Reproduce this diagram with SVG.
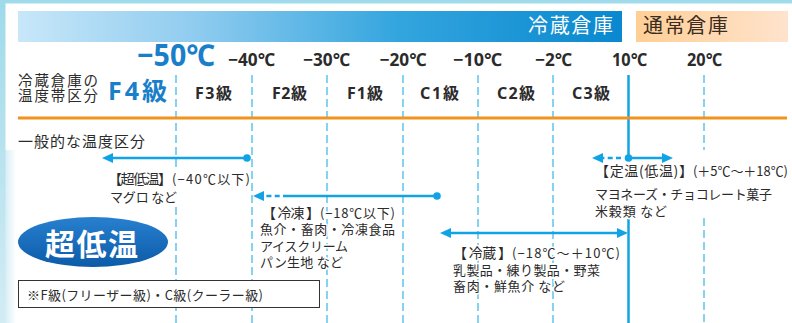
<svg xmlns="http://www.w3.org/2000/svg" width="792" height="323" viewBox="0 0 792 323">
<defs>
<linearGradient id="gBlue" x1="0" y1="0" x2="1" y2="0">
<stop offset="0" stop-color="#c8e7f9"/>
<stop offset="0.3" stop-color="#8ecbef"/>
<stop offset="0.63" stop-color="#33a5de"/>
<stop offset="1" stop-color="#0988cf"/>
</linearGradient>
<linearGradient id="gOrange" x1="0" y1="0" x2="1" y2="0">
<stop offset="0" stop-color="#ffcf96"/>
<stop offset="1" stop-color="#ffe3cd"/>
</linearGradient>
<linearGradient id="gLeft" x1="0" y1="0" x2="0" y2="1">
<stop offset="0" stop-color="#9fdaea"/>
<stop offset="1" stop-color="#d3ecf4"/>
</linearGradient>
<linearGradient id="gGlow" x1="0" y1="0" x2="1" y2="0">
<stop offset="0" stop-color="#d6edf5"/>
<stop offset="1" stop-color="#ffffff"/>
</linearGradient>
<linearGradient id="gEll" x1="0" y1="0" x2="0" y2="1">
<stop offset="0" stop-color="#2780cf"/>
<stop offset="1" stop-color="#0c5ba9"/>
</linearGradient>
<marker id="ah" markerUnits="userSpaceOnUse" markerWidth="12" markerHeight="12" viewBox="0 -6 12 12" refX="4" refY="0" orient="auto-start-reverse">
<path d="M0,-5 L11,0 L0,5 z" fill="#12a3e6"/>
</marker>
<style>
text{font-family:"Noto Sans CJK JP","Noto Sans",sans-serif;fill:#2b2b2b}
.hd{font-size:20px}
.tmp{font-family:"Noto Sans","Noto Sans CJK JP",sans-serif;font-size:18px;font-weight:bold}
.big{font-family:"Noto Sans","Noto Sans CJK JP",sans-serif;font-size:30px;font-weight:bold;fill:#1a7fc8}
.gr{font-family:"Noto Sans","Noto Sans CJK JP",sans-serif;font-size:16px;font-weight:bold}
.lbl{font-size:15px}
.lbl2{font-size:14.5px}
.ann{font-size:13px;paint-order:stroke;stroke:#fff;stroke-width:3px;stroke-linejoin:round}
.annb{font-size:14px}
.dash{stroke:#5cc5ee;stroke-width:1.5;stroke-dasharray:8 4;fill:none}
.arr{stroke:#12a3e6;stroke-width:2.5;fill:none}
.dot{stroke:#12a3e6;stroke-width:2.5;stroke-dasharray:5 3.3;fill:none}
.pt{fill:#12a3e6}
</style>
</defs>
<rect x="0" y="0" width="792" height="323" fill="#ffffff"/>
<rect x="5" y="150" width="11" height="173" fill="url(#gGlow)"/>
<rect x="0" y="0" width="5.5" height="323" fill="url(#gLeft)"/>
<rect x="0" y="0" width="792" height="3.5" fill="#a0dbeb"/>

<g id="header-cold">
<rect x="18" y="11" width="604" height="31" fill="url(#gBlue)"/>
<text class="hd" x="528" y="33" textLength="85" style="fill:#ffffff">冷蔵倉庫</text>
</g>
<g id="header-normal">
<rect x="636" y="11" width="152" height="31" fill="url(#gOrange)"/>
<text class="hd" x="643" y="33" textLength="85" style="fill:#3a2c20">通常倉庫</text>
</g>

<g id="gridlines">
<line class="dash" x1="176" y1="75" x2="176" y2="323"/>
<line class="dash" x1="252" y1="75" x2="252" y2="323"/>
<line class="dash" x1="327" y1="75" x2="327" y2="323"/>
<line class="dash" x1="403" y1="75" x2="403" y2="323"/>
<line class="dash" x1="478" y1="75" x2="478" y2="323"/>
<line class="dash" x1="553" y1="75" x2="553" y2="323"/>
<line class="dash" x1="704" y1="75" x2="704" y2="150"/>
<line class="dash" x1="704" y1="218" x2="704" y2="323"/>
<line x1="628.5" y1="75" x2="628.5" y2="158" stroke="#12a3e6" stroke-width="2.5"/>
<line x1="628.5" y1="219" x2="628.5" y2="323" stroke="#12a3e6" stroke-width="2.5"/>
</g>

<g id="temps">
<text class="big" x="176" y="66" text-anchor="middle" textLength="78" lengthAdjust="spacingAndGlyphs">−50℃</text>
<text class="tmp" x="251.5" y="66" text-anchor="middle" textLength="47" lengthAdjust="spacingAndGlyphs">−40℃</text>
<text class="tmp" x="326.5" y="66" text-anchor="middle" textLength="47" lengthAdjust="spacingAndGlyphs">−30℃</text>
<text class="tmp" x="403" y="66" text-anchor="middle" textLength="47" lengthAdjust="spacingAndGlyphs">−20℃</text>
<text class="tmp" x="477.5" y="66" text-anchor="middle" textLength="49" lengthAdjust="spacingAndGlyphs">−10℃</text>
<text class="tmp" x="553.5" y="66" text-anchor="middle" textLength="37" lengthAdjust="spacingAndGlyphs">−2℃</text>
<text class="tmp" x="629.5" y="66" text-anchor="middle" textLength="35" lengthAdjust="spacingAndGlyphs">10℃</text>
<text class="tmp" x="704.5" y="66" text-anchor="middle" textLength="35" lengthAdjust="spacingAndGlyphs">20℃</text>
</g>

<g id="grades">
<text class="lbl2" x="18" y="86" textLength="80">冷蔵倉庫の</text>
<text class="lbl2" x="18" y="101" textLength="80">温度帯区分</text>
<text x="108" y="100" textLength="59" style="font-family:'Noto Sans','Noto Sans CJK JP',sans-serif;font-size:25px;font-weight:bold;fill:#1a7fc8">F4級</text>
<text class="gr" x="213.5" y="99" text-anchor="middle" textLength="37">F3級</text>
<text class="gr" x="289.5" y="99" text-anchor="middle" textLength="35">F2級</text>
<text class="gr" x="365" y="99" text-anchor="middle" textLength="36">F1級</text>
<text class="gr" x="439.5" y="99" text-anchor="middle" textLength="39">C1級</text>
<text class="gr" x="516" y="99" text-anchor="middle" textLength="38">C2級</text>
<text class="gr" x="591" y="99" text-anchor="middle" textLength="38">C3級</text>
</g>

<line id="divider" x1="18" y1="118" x2="787" y2="118" stroke="#f2931f" stroke-width="3"/>

<text class="lbl" x="18" y="147" textLength="127">一般的な温度区分</text>

<g id="connectors">
<line class="arr" x1="247" y1="158" x2="109" y2="158" marker-end="url(#ah)"/>
<circle class="pt" cx="247" cy="158" r="3.8"/>

<line class="arr" x1="437" y1="196" x2="288" y2="196"/>
<line class="dot" x1="288" y1="196" x2="260" y2="196" marker-end="url(#ah)"/>
<circle class="pt" cx="437" cy="196" r="3.8"/>

<line class="arr" x1="447" y1="233" x2="621" y2="233" marker-start="url(#ah)" marker-end="url(#ah)"/>

<line class="arr" x1="628" y1="158" x2="666" y2="158" marker-end="url(#ah)"/>
<line class="dot" x1="621" y1="158" x2="599" y2="158" marker-end="url(#ah)"/>
<circle class="pt" cx="628.5" cy="158" r="3.8"/>
</g>

<g id="ultra-low">
<rect x="106" y="168" width="144" height="38" fill="#ffffff"/>
<text class="annb" x="108" y="184" textLength="64">【超低温】</text>
<text class="ann" x="172" y="184" textLength="78">(−40℃以下)</text>
<text class="ann" x="110" y="202" textLength="67">マグロ など</text>
</g>

<g id="frozen">
<text class="ann" x="262" y="218" textLength="58" style="font-size:14px">【 冷凍 】</text>
<text class="ann" x="320" y="218" textLength="75">(−18℃以下)</text>
<text class="ann" x="260" y="234" textLength="135">魚介・畜肉・冷凍食品</text>
<text class="ann" x="260" y="250.5" textLength="88">アイスクリーム</text>
<text class="ann" x="260" y="267" textLength="83">パン生地 など</text>
</g>

<g id="chilled">
<text class="ann" x="453" y="258" textLength="59" style="font-size:14px">【 冷蔵 】</text>
<text class="ann" x="512" y="258" textLength="108">(−18℃〜＋10℃)</text>
<text class="ann" x="453" y="274.5" textLength="147">乳製品・練り製品・野菜</text>
<text class="ann" x="453" y="291" textLength="112">畜肉・鮮魚介 など</text>
</g>

<g id="constant">
<text class="annb" x="595" y="176" textLength="98">【定温(低温)】</text>
<text class="ann" x="693" y="176" textLength="95">(＋5℃〜＋18℃)</text>
<text class="ann" x="595" y="199" textLength="177">マヨネーズ・チョコレート菓子</text>
<text class="ann" x="595" y="215.5" textLength="72">米穀類 など</text>
</g>

<g id="badge">
<ellipse cx="93" cy="242" rx="75" ry="25" fill="url(#gEll)"/>
<text x="45" y="255" textLength="93" style="font-size:30px;font-weight:bold;fill:#ffffff">超低温</text>
</g>

<g id="note">
<rect x="18.5" y="280.5" width="301" height="27" fill="#ffffff" stroke="#333333" stroke-width="1"/>
<text class="ann" x="27" y="300" textLength="236">※F級(フリーザー級)・C級(クーラー級)</text>
</g>
</svg>
